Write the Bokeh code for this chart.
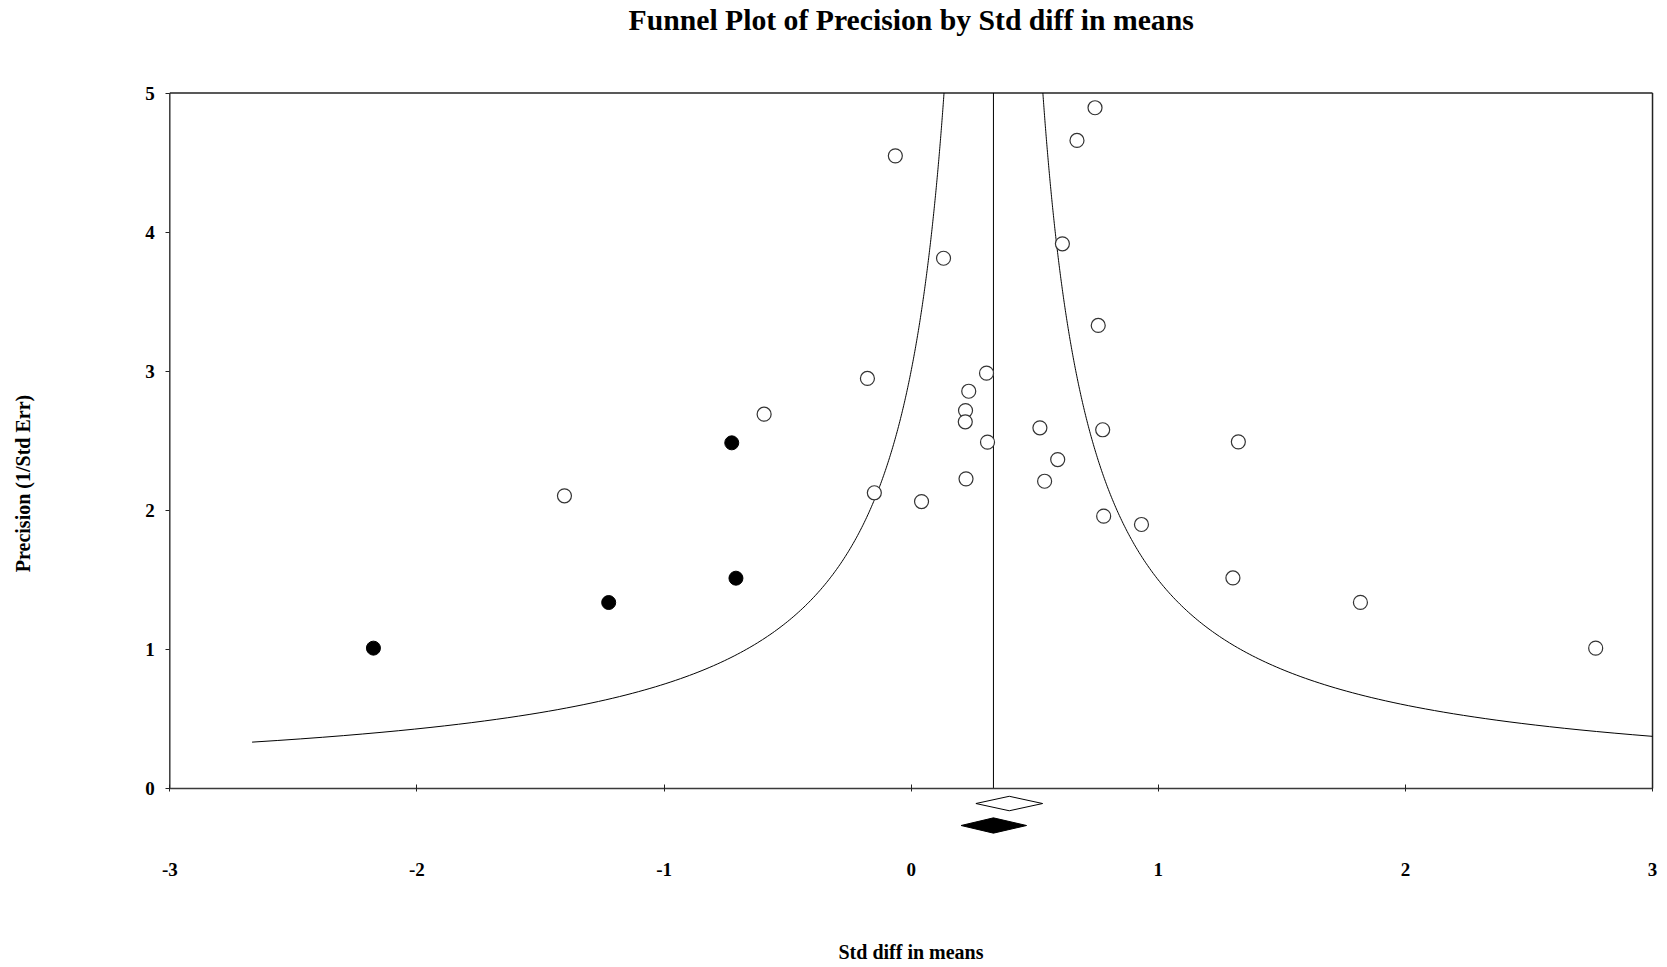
import numpy as np
from bokeh.plotting import figure
from bokeh.models import Range1d, FixedTicker, Label, ColumnDataSource
from bokeh.embed import file_html
from bokeh.resources import INLINE

# ---------------- data ----------------
# observed studies: Std diff in means vs precision (1/SE)
obs_effect = [0.744, 0.671, -0.064, 0.612, 0.131, 0.757, 0.305, -0.177, 0.233,
              0.220, -0.595, 0.219, 0.521, 0.775, 0.309, 1.324, 0.593, 0.222,
              0.540, -1.403, -0.149, 0.042, 0.779, 0.932, 1.302, 1.818, 2.770]
obs_precision = [4.894, 4.659, 4.548, 3.916, 3.812, 3.329, 2.986, 2.948, 2.856,
                 2.717, 2.691, 2.636, 2.593, 2.579, 2.490, 2.492, 2.365, 2.226,
                 2.209, 2.104, 2.126, 2.063, 1.958, 1.898, 1.514, 1.338, 1.009]
# imputed (trim and fill) studies
imp_effect = [-0.726, -0.709, -1.224, -2.176]
imp_precision = [2.485, 1.512, 1.337, 1.009]

# summary effects: observed (open diamond), adjusted (filled diamond)
summary_name = ["Observed", "Adjusted"]
summary_est = [0.397, 0.333]
summary_lo = [0.262, 0.202]
summary_hi = [0.532, 0.467]

# funnel definition
funnel_center = 0.333
funnel_halfwidth_at_unit_precision = 1.0
funnel_precision_min = 1.0 / 3.0

x_tick_values = [-3, -2, -1, 0, 1, 2, 3]
x_tick_labels = ["-3", "-2", "-1", "0", "1", "2", "3"]
y_tick_values = [0, 1, 2, 3, 4, 5]
y_tick_labels = ["0", "1", "2", "3", "4", "5"]
x_min, x_max = -3, 3
y_min, y_max = 0, 5

title_text = "Funnel Plot of Precision by Std diff in means"
x_label = "Std diff in means"
y_label = "Precision (1/Std Err)"

# ---------------- layout (pixels) ----------------
FONT = "Liberation Serif"
W, H = 1666, 966
PX_X = 247.12               # pixels per x unit
PX_Y = 139.1                # pixels per y unit
X0_PIX = 169.3              # x=-3 position from the canvas left
Y_TOP_PIX = 92.5            # y=5 position from the canvas top
xr = Range1d(x_min - X0_PIX / PX_X, x_min + (W - X0_PIX) / PX_X)
yr = Range1d(y_max - (H - Y_TOP_PIX) / PX_Y, y_max + Y_TOP_PIX / PX_Y)

p = figure(frame_width=W, frame_height=H,
           min_border_left=0, min_border_right=0,
           min_border_top=0, min_border_bottom=0,
           x_range=xr, y_range=yr,
           output_backend="svg", toolbar_location=None, tools="",
           background_fill_color="white", border_fill_color="white")

p.grid.visible = False
p.outline_line_color = None

AX_COLOR = "#3a3a3a"

# x axis sits at precision = 0, ticks and labels hang below it
xa = p.xaxis[0]
xa.fixed_location = y_min
xa.bounds = (x_min, x_max)
xa.ticker = FixedTicker(ticks=x_tick_values)
xa.major_label_overrides = dict(zip(x_tick_values, x_tick_labels))
xa.minor_tick_line_color = None
xa.major_tick_in = 4
xa.major_tick_out = 3
xa.major_label_standoff = 71
xa.axis_label = x_label
xa.axis_label_standoff = 62
xa.axis_line_color = AX_COLOR
xa.axis_line_width = 1.5

# y axis sits at std diff = -3 (its title centred on the page height)
ya = p.yaxis[0]
ya.fixed_location = x_min
ya.ticker = FixedTicker(ticks=y_tick_values)
ya.major_label_overrides = dict(zip(y_tick_values, y_tick_labels))
ya.minor_tick_line_color = None
ya.major_tick_in = 0
ya.major_tick_out = 4
ya.major_label_standoff = 11
ya.axis_label = y_label
ya.axis_label_standoff = 108
ya.axis_line_color = None

for ax in (xa, ya):
    ax.major_tick_line_color = "#222222"
    ax.major_tick_line_width = 1
    ax.major_label_text_font = FONT
    ax.major_label_text_font_style = "bold"
    ax.major_label_text_font_size = "19px"
    ax.major_label_text_color = "black"
    ax.axis_label_text_font = FONT
    ax.axis_label_text_font_style = "bold"
    ax.axis_label_text_font_size = "20px"
    ax.axis_label_text_color = "black"

# plot box: left axis line, top and right borders
p.line([x_min, x_min], [y_min, y_max], line_color=AX_COLOR, line_width=1.5)
p.line([x_min, x_max], [y_max, y_max], line_color="#222222", line_width=1.5)
p.line([x_max, x_max], [y_min, y_max], line_color="#222222", line_width=1.5)

# title
p.add_layout(Label(x=0, y=5.525, text=title_text, text_align="center",
                   text_baseline="middle", text_font=FONT,
                   text_font_style="bold", text_font_size="29.7px",
                   text_color="black"))

# funnel lines (pseudo confidence limits around the combined effect)
prec_left = np.linspace(funnel_precision_min, y_max, 400)
p.line(funnel_center - funnel_halfwidth_at_unit_precision / prec_left, prec_left,
       line_color="black", line_width=1)
prec_right = np.linspace(funnel_halfwidth_at_unit_precision / (x_max - funnel_center),
                         y_max, 400)
p.line(funnel_center + funnel_halfwidth_at_unit_precision / prec_right, prec_right,
       line_color="black", line_width=1)
p.line([funnel_center, funnel_center], [y_min, y_max],
       line_color="black", line_width=1)

# studies
p.scatter(obs_effect, obs_precision, marker="circle", size=14,
          fill_color="white", line_color="#333333", line_width=1.2)
p.scatter(imp_effect, imp_precision, marker="circle", size=14,
          fill_color="black", line_color="black", line_width=1)

# summary diamonds below the axis
diamond_y = [-0.108, -0.266]
diamond_half_h = [0.052, 0.055]
xs, ys = [], []
for est, lo, hi, yc, hh in zip(summary_est, summary_lo, summary_hi, diamond_y, diamond_half_h):
    xs.append([lo, est, hi, est])
    ys.append([yc, yc + hh, yc, yc - hh])
src = ColumnDataSource(dict(xs=xs, ys=ys, name=summary_name,
                            fill=["white", "black"]))
p.patches("xs", "ys", source=src, fill_color="fill", line_color="black",
          line_width=1)

open("out.html", "w").write(file_html(p, INLINE))
